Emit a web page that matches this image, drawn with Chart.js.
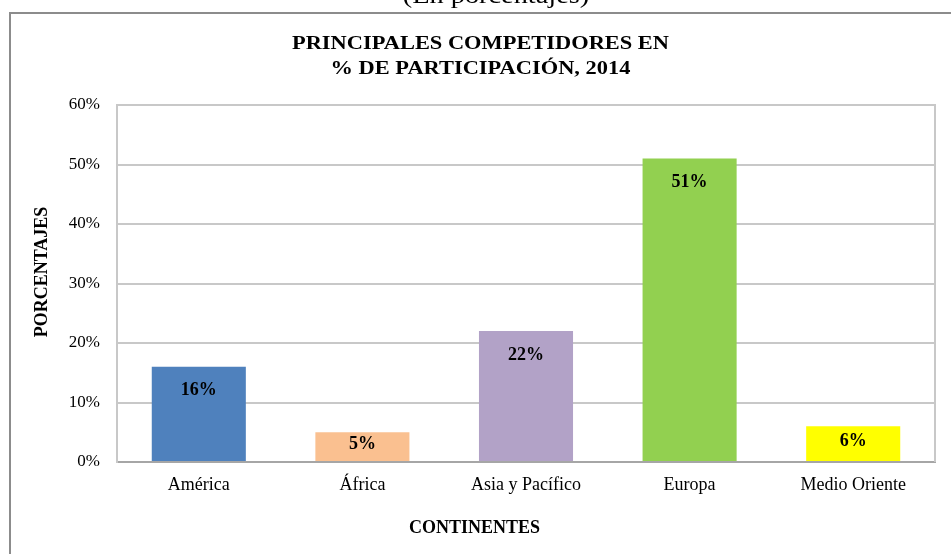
<!DOCTYPE html>
<html>
<head>
<meta charset="utf-8">
<script src="https://cdn.jsdelivr.net/npm/chart.js@4/dist/chart.umd.min.js"></script>
<style>
    html, body { margin: 0; padding: 0; background: #fff; }
    #wrap { width: 951px; height: 554px; position: relative; }
</style>
</head>
<body>
<div id="wrap"><canvas id="chart" width="951" height="554"></canvas></div>
<script>
// ─── Datos ──────────────────────────────────────────────────
const CONTINENTES = ['América', 'África', 'Asia y Pacífico', 'Europa', 'Medio Oriente'];
const PARTICIPACION = [16, 5, 22, 51, 6];
const COLORES = ['#4F81BD', '#FAC090', '#B2A2C7', '#92D050', '#FFFF00'];
const TITULO = ['PRINCIPALES COMPETIDORES EN', '% DE PARTICIPACIÓN, 2014'];
const SUBTITULO = '(En porcentajes)';
const EJE_X = 'CONTINENTES';
const EJE_Y = 'PORCENTAJES';

const SERIF = '"Liberation Serif", "Times New Roman", serif';

// ─── Helpers ────────────────────────────────────────────────

function stretchedText(ctx, text, x, y, font, sx) {
    ctx.save();
    ctx.font = font;
    ctx.translate(x, y);
    ctx.scale(sx, 1);
    ctx.fillText(text, 0, 0);
    ctx.restore();
}

// Marco, títulos y etiquetas de datos
const decor = {
    id: 'decor',
    beforeDraw(chart) {
        const ctx = chart.ctx;
        ctx.save();
        ctx.strokeStyle = '#8c8c8c';
        ctx.lineWidth = 2;
        ctx.beginPath();
        ctx.moveTo(10, 554);
        ctx.lineTo(10, 13);
        ctx.lineTo(951, 13);
        ctx.stroke();
        ctx.restore();
    },
    afterDraw(chart) {
        const ctx = chart.ctx;
        const area = chart.chartArea;

        // borde derecho del área de trazado
        ctx.save();
        ctx.strokeStyle = '#c8c8c8';
        ctx.lineWidth = 2;
        ctx.beginPath();
        ctx.moveTo(area.right, area.top - 1);
        ctx.lineTo(area.right, area.bottom);
        ctx.stroke();
        ctx.restore();

        ctx.save();
        ctx.fillStyle = '#000';
        ctx.textAlign = 'center';
        ctx.textBaseline = 'alphabetic';
        stretchedText(ctx, SUBTITULO, 496, 3, '24px ' + SERIF, 1.18);
        stretchedText(ctx, TITULO[0], 480.5, 49, 'bold 19px ' + SERIF, 1.18);
        stretchedText(ctx, TITULO[1], 480.5, 74, 'bold 19px ' + SERIF, 1.18);

        ctx.textBaseline = 'middle';
        ctx.font = 'bold 18px ' + SERIF;
        ctx.fillText(EJE_X, 474.5, 528);
        ctx.translate(42, 272);
        ctx.rotate(-Math.PI / 2);
        ctx.fillText(EJE_Y, 0, 0);
        ctx.restore();

        // etiquetas de valor dentro de las barras
        const meta = chart.getDatasetMeta(0);
        ctx.save();
        ctx.fillStyle = '#000';
        ctx.font = 'bold 18px ' + SERIF;
        ctx.textAlign = 'center';
        ctx.textBaseline = 'middle';
        meta.data.forEach(function (bar, i) {
            const top = bar.y, bottom = bar.base;
            const y = Math.min(top + 24, (top + bottom) / 2 - 2.5);
            ctx.fillText(PARTICIPACION[i] + '%', bar.x, y);
        });
        ctx.restore();
    }
};

new Chart(document.getElementById('chart'), {
    type: 'bar',
    data: {
        labels: CONTINENTES,
        datasets: [{
            data: PARTICIPACION,
            backgroundColor: COLORES,
            borderWidth: 0,
            barPercentage: 0.575,
            categoryPercentage: 1,
        }],
    },
    options: {
        responsive: false,
        animation: false,
        layout: { padding: { left: 0, right: 16, top: 105, bottom: 0 } },
        plugins: {
            legend: { display: false },
            title: { display: false },
            tooltip: { enabled: false },
        },
        scales: {
            x: {
                grid: { display: false, drawTicks: false },
                border: { color: '#a6a6a6', width: 2 },
                ticks: { color: '#000', font: { family: SERIF, size: 18 }, padding: 12, maxRotation: 0 },
                afterFit(scale) { scale.height = 92; },
            },
            y: {
                min: 0,
                max: 60,
                grid: { color: '#c8c8c8', lineWidth: 2, drawTicks: false },
                border: { color: '#c8c8c8', width: 2 },
                ticks: {
                    stepSize: 10,
                    color: '#000',
                    font: { family: SERIF, size: 17 },
                    padding: 17,
                    callback: function (v) { return v + '%'; },
                },
                afterFit(scale) { scale.width = 117; },
            },
        },
    },
    plugins: [decor],
});
</script>
</body>
</html>
